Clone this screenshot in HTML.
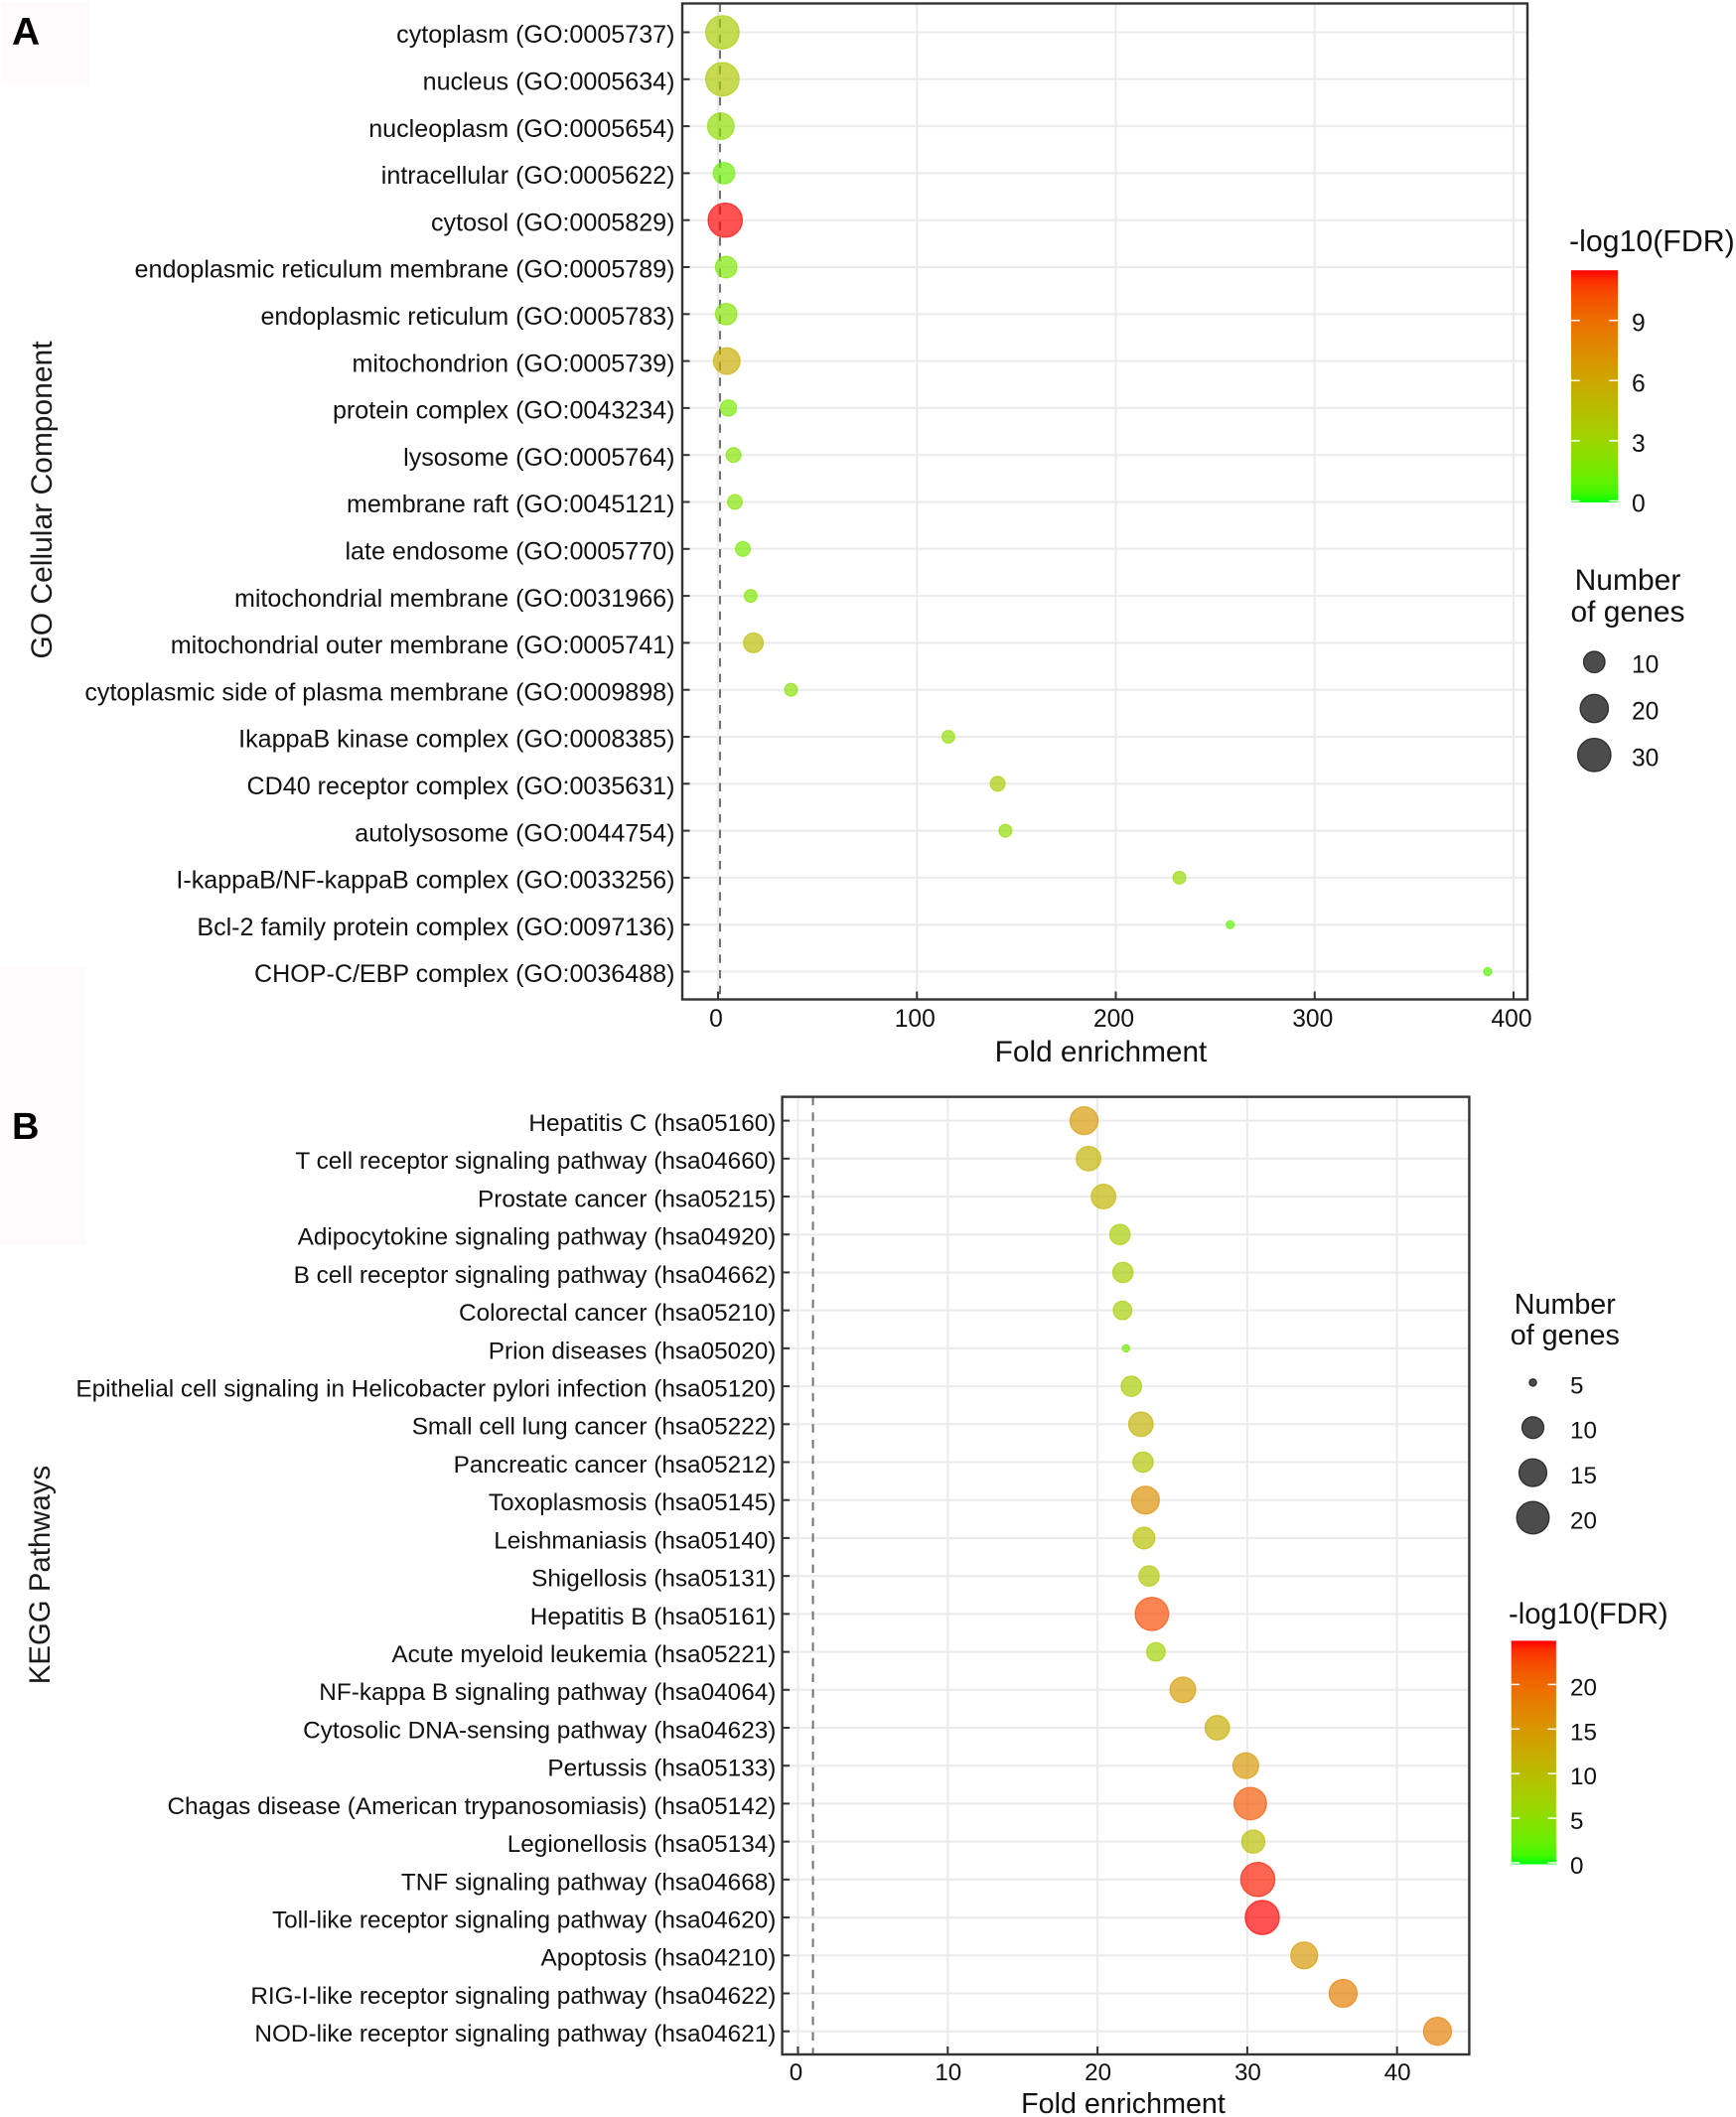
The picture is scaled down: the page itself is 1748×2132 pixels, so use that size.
<!DOCTYPE html>
<html lang="en">
<head>
<meta charset="utf-8">
<title>GO Cellular Component and KEGG pathway enrichment</title>
<style>
html,body{margin:0;padding:0;background:#fff;}
svg{display:block;font-family:"Liberation Sans",Arial,sans-serif;}
</style>
</head>
<body>
<svg id="figure" xmlns="http://www.w3.org/2000/svg" width="1748" height="2132" viewBox="0 0 1748 2132">
  <defs id="defs"></defs>
  <rect x="0" y="0" width="1748" height="2132" fill="#ffffff"/>
  <rect x="2" y="2" width="88" height="83" fill="#fffbfc"/>
  <rect x="0" y="974" width="86" height="280" fill="#fffbfc"/>
  <text x="12" y="45" font-size="39" font-weight="bold" fill="#000">A</text>
  <text x="12" y="1147" font-size="38" font-weight="bold" fill="#000">B</text>
  <text transform="translate(52,503.5) rotate(-90)" text-anchor="middle" font-size="30" fill="#1a1a1a">GO Cellular Component</text>
  <text x="1108.5" y="1069" text-anchor="middle" font-size="29.8" fill="#111">Fold enrichment</text>
  <text transform="translate(50,1586) rotate(-90)" text-anchor="middle" font-size="29.4" fill="#1a1a1a">KEGG Pathways</text>
  <text x="1131" y="2128" text-anchor="middle" font-size="28.7" fill="#111">Fold enrichment</text>
  <text x="1580" y="253" font-size="30.3" fill="#111">-log10(FDR)</text>
  <text x="1639" y="594" text-anchor="middle" font-size="30" fill="#111">Number</text>
  <text x="1639" y="626" text-anchor="middle" font-size="30" fill="#111">of genes</text>
  <text x="1575.8" y="1323" text-anchor="middle" font-size="28.7" fill="#111">Number</text>
  <text x="1575.8" y="1354" text-anchor="middle" font-size="28.7" fill="#111">of genes</text>
  <text x="1519" y="1635" font-size="29.2" fill="#111">-log10(FDR)</text>
</svg>
<script>
// ---------- Panel A data: GO Cellular Component ----------
const goLabels = ["cytoplasm (GO:0005737)","nucleus (GO:0005634)","nucleoplasm (GO:0005654)","intracellular (GO:0005622)","cytosol (GO:0005829)","endoplasmic reticulum membrane (GO:0005789)","endoplasmic reticulum (GO:0005783)","mitochondrion (GO:0005739)","protein complex (GO:0043234)","lysosome (GO:0005764)","membrane raft (GO:0045121)","late endosome (GO:0005770)","mitochondrial membrane (GO:0031966)","mitochondrial outer membrane (GO:0005741)","cytoplasmic side of plasma membrane (GO:0009898)","IkappaB kinase complex (GO:0008385)","CD40 receptor complex (GO:0035631)","autolysosome (GO:0044754)","I-kappaB/NF-kappaB complex (GO:0033256)","Bcl-2 family protein complex (GO:0097136)","CHOP-C/EBP complex (GO:0036488)"];
const goFold = [2.2,2.2,1.4,3.0,3.6,4.1,4.1,4.4,5.2,7.8,8.5,12.5,16.4,17.8,36.7,115.8,140.6,144.5,232,257.5,387];
const goGenes = [30,30,17,10,32,10,10,17,5,4,4,4,3,8,3,3,4,3,3,2,2];
const goFdr = [3.6,3.9,2.5,1.3,11.5,1.8,2.0,5.7,1.6,2.0,2.0,1.6,1.8,4.6,2.2,2.4,3.8,2.6,2.8,1.0,0.8];
const goXTicks = [0,100,200,300,400];
const goColorTicks = [0,3,6,9];
const goSizeTicks = [10,20,30];

// ---------- Panel B data: KEGG pathways ----------
const keggLabels = ["Hepatitis C (hsa05160)","T cell receptor signaling pathway (hsa04660)","Prostate cancer (hsa05215)","Adipocytokine signaling pathway (hsa04920)","B cell receptor signaling pathway (hsa04662)","Colorectal cancer (hsa05210)","Prion diseases (hsa05020)","Epithelial cell signaling in Helicobacter pylori infection (hsa05120)","Small cell lung cancer (hsa05222)","Pancreatic cancer (hsa05212)","Toxoplasmosis (hsa05145)","Leishmaniasis (hsa05140)","Shigellosis (hsa05131)","Hepatitis B (hsa05161)","Acute myeloid leukemia (hsa05221)","NF-kappa B signaling pathway (hsa04064)","Cytosolic DNA-sensing pathway (hsa04623)","Pertussis (hsa05133)","Chagas disease (American trypanosomiasis) (hsa05142)","Legionellosis (hsa05134)","TNF signaling pathway (hsa04668)","Toll-like receptor signaling pathway (hsa04620)","Apoptosis (hsa04210)","RIG-I-like receptor signaling pathway (hsa04622)","NOD-like receptor signaling pathway (hsa04621)"];
const keggFold = [19.1,19.4,20.4,21.5,21.7,21.67,21.9,22.26,22.9,23.04,23.2,23.1,23.44,23.63,23.9,25.7,28.0,29.9,30.2,30.4,30.7,31.0,33.8,36.4,42.7];
const keggGenes = [15,12,12,9,9,8,5,9,12,9,15,10,9,21,8,13,12,13,20,11,22,22,14,15,15];
const keggFdr = [15,11.5,11,8,8,7.5,3,8,11.5,9,16,9.5,9,22.5,7,14.5,12,15,21.5,10,24.5,24.9,15,18,18];
const keggXTicks = [0,10,20,30,40];
const keggColorTicks = [0,5,10,15,20];
const keggSizeTicks = [5,10,15,20];

const svg = document.getElementById('figure');
const defs = document.getElementById('defs');
const NS = 'http://www.w3.org/2000/svg';

function make(tag, attrs, text) {
  const node = document.createElementNS(NS, tag);
  for (const k in attrs) node.setAttribute(k, attrs[k]);
  if (text !== undefined) node.textContent = text;
  svg.appendChild(node);
  return node;
}

// Lab interpolation between green and red (as in ggplot's scale_colour_gradient)
function srgbToLab(c) {
  const lin = c.map(v => { v /= 255; return v > 0.04045 ? Math.pow((v + 0.055) / 1.055, 2.4) : v / 12.92; });
  const X = (0.4124 * lin[0] + 0.3576 * lin[1] + 0.1805 * lin[2]) / 0.95047;
  const Y = 0.2126 * lin[0] + 0.7152 * lin[1] + 0.0722 * lin[2];
  const Z = (0.0193 * lin[0] + 0.1192 * lin[1] + 0.9505 * lin[2]) / 1.08883;
  const f = t => t > 0.008856 ? Math.cbrt(t) : 7.787 * t + 16 / 116;
  return [116 * f(Y) - 16, 500 * (f(X) - f(Y)), 200 * (f(Y) - f(Z))];
}
function labToRgb(l) {
  const fy = (l[0] + 16) / 116, fx = l[1] / 500 + fy, fz = fy - l[2] / 200;
  const g = t => t * t * t > 0.008856 ? t * t * t : (t - 16 / 116) / 7.787;
  const X = g(fx) * 0.95047, Y = g(fy), Z = g(fz) * 1.08883;
  const lin = [3.2406 * X - 1.5372 * Y - 0.4986 * Z, -0.9689 * X + 1.8758 * Y + 0.0415 * Z, 0.0557 * X - 0.204 * Y + 1.057 * Z];
  return lin.map(v => {
    v = Math.max(0, Math.min(1, v));
    v = v > 0.0031308 ? 1.055 * Math.pow(v, 1 / 2.4) - 0.055 : 12.92 * v;
    return Math.round(v * 255);
  });
}
const labLow = srgbToLab([0, 255, 0]);
const labHigh = srgbToLab([255, 0, 0]);
function ramp(t) {
  t = Math.max(0, Math.min(1, t));
  const rgb = labToRgb(labLow.map((v, i) => v + (labHigh[i] - v) * t));
  return 'rgb(' + rgb.join(',') + ')';
}

function drawPanel(p) {
  const x = v => p.x0 + v * p.xPerUnit;
  const y = i => p.yFirst + i * (p.yLast - p.yFirst) / (p.labels.length - 1);
  const size = g => p.dMin + p.dSpan * Math.sqrt(Math.max(0, g - p.gMin) / (p.gMax - p.gMin));
  const legendY = v => p.barBottom - v * p.barPerUnit;

  // horizontal grid + y ticks + labels
  p.labels.forEach((label, i) => {
    const grid = make('line', {x1: p.left, x2: p.right, y1: y(i), y2: y(i), stroke: '#ebebeb', 'stroke-width': 2});
    
    
    const text = make('text', {x: p.left - p.labelGap, y: y(i) + p.labelDy, 'text-anchor': 'end', 'font-size': p.labelSize, fill: '#111'}, label);
    
    
  });
  // vertical grid
  p.xTicks.forEach(v => {
    const grid = make('line', {x1: x(v), x2: x(v), y1: p.top, y2: p.bottom, stroke: '#ebebeb', 'stroke-width': 2});
    
    
  });
  // reference line at fold enrichment = 1
  const ref = make('line', {x1: x(1), x2: x(1), y1: p.top, y2: p.bottom, stroke: '#6f7373', 'stroke-width': 2, 'stroke-dasharray': '8.5 7.2'});
  
  
  // points
  p.labels.forEach((label, i) => {
    const col = ramp(p.fdr[i] / p.fdrMax);
    const pt = make('circle', {cx: x(p.fold[i]), cy: y(i), r: size(p.genes[i]) / 2 - 0.5, fill: col, 'fill-opacity': 0.68, stroke: col, 'stroke-opacity': 0.68, 'stroke-width': 1.2});
    
    
  });
  // axis ticks, inside the panel
  p.labels.forEach((label, i) => {
    const tick = make('line', {x1: p.left, x2: p.left + 7.5, y1: y(i), y2: y(i), stroke: '#333', 'stroke-width': 2});
    
    
  });
  p.xTicks.forEach(v => {
    const tick = make('line', {x1: x(v), x2: x(v), y1: p.bottom - 8, y2: p.bottom, stroke: '#333', 'stroke-width': 2});
    
    
    const label = make('text', {x: x(v) + (v === 0 ? -2 : p.xLabelDx), y: p.xLabelY, 'text-anchor': 'middle', 'font-size': p.tickSize, fill: '#111'}, String(v));
    
    
  });
  // panel border
  const border = make('rect', {x: p.left, y: p.top, width: p.right - p.left, height: p.bottom - p.top, fill: 'none', stroke: '#333', 'stroke-width': 2.4});
  
  

  // colour legend
  const grad = document.createElementNS(NS, 'linearGradient');
  grad.setAttribute('id', p.id + '-gradient');
  grad.setAttribute('x1', '0'); grad.setAttribute('x2', '0'); grad.setAttribute('y1', '1'); grad.setAttribute('y2', '0');
  for (let s = 0; s <= 24; s++) {
    const stop = document.createElementNS(NS, 'stop');
    stop.setAttribute('offset', s / 24);
    stop.setAttribute('stop-color', ramp(s / 24));
    grad.appendChild(stop);
  }
  defs.appendChild(grad);
  const barTop = legendY(p.fdrMax);
  const bar = make('rect', {x: p.barLeft, y: barTop, width: p.barRight - p.barLeft, height: p.barBottom + 1.5 - barTop, fill: 'url(#' + p.id + '-gradient)'});
  
  
  p.colorTicks.forEach(v => {
    const w = (p.barRight - p.barLeft) / 5.4;
    const left = make('line', {x1: p.barLeft, x2: p.barLeft + w, y1: legendY(v), y2: legendY(v), stroke: '#fff', 'stroke-width': 1.5});
    
    
    const right = make('line', {x1: p.barRight - w, x2: p.barRight, y1: legendY(v), y2: legendY(v), stroke: '#fff', 'stroke-width': 1.5});
    
    
    const label = make('text', {x: p.legendTextX, y: legendY(v) + 11, 'font-size': p.legendTextSize, fill: '#111'}, String(v));
    
    
  });

  // size legend
  p.sizeTicks.forEach((g, i) => {
    const cy = p.sizeY0 + i * p.sizeStep;
    const key = make('circle', {cx: p.sizeX, cy: cy, r: size(g) / 2 - 0.5, fill: '#000', 'fill-opacity': 0.7, stroke: '#000', 'stroke-opacity': 0.7, 'stroke-width': 1.2});
    
    
    const label = make('text', {x: p.legendTextX, y: cy + 11, 'font-size': p.legendTextSize, fill: '#111'}, String(g));
    
    
  });
}

drawPanel({
  id: 'go', labels: goLabels, fold: goFold, genes: goGenes, fdr: goFdr, xTicks: goXTicks,
  colorTicks: goColorTicks, sizeTicks: goSizeTicks,
  left: 687, right: 1538, top: 3.5, bottom: 1006.5, x0: 723, xPerUnit: 2.0025, yFirst: 32.5, yLast: 978.5,
  labelSize: 25.1, labelGap: 7.5, labelDy: 10.7, tickSize: 24.6, xLabelY: 1034, xLabelDx: -2,
  dMin: 9, dSpan: 26.5, gMin: 2, gMax: 32, fdrMax: 11.5,
  barLeft: 1582, barRight: 1629, barBottom: 504.5, barPerUnit: 20.2,
  legendTextX: 1643, legendTextSize: 24.6, sizeX: 1605.3, sizeY0: 666.7, sizeStep: 46.8
});

drawPanel({
  id: 'kegg', labels: keggLabels, fold: keggFold, genes: keggGenes, fdr: keggFdr, xTicks: keggXTicks,
  colorTicks: keggColorTicks, sizeTicks: keggSizeTicks,
  left: 787.6, right: 1479.4, top: 1104.6, bottom: 2069, x0: 803.5, xPerUnit: 15.08, yFirst: 1128.6, yLast: 2045.7,
  labelSize: 24.35, labelGap: 6.2, labelDy: 10.4, tickSize: 24.2, xLabelY: 2095, xLabelDx: 0.5,
  dMin: 8.4, dSpan: 27, gMin: 5, gMax: 22, fdrMax: 24.9,
  barLeft: 1521.7, barRight: 1566.9, barBottom: 1876, barPerUnit: 8.98,
  legendTextX: 1581, legendTextSize: 24.2, sizeX: 1543.5, sizeY0: 1392.3, sizeStep: 45.4
});
</script>
</body>
</html>
